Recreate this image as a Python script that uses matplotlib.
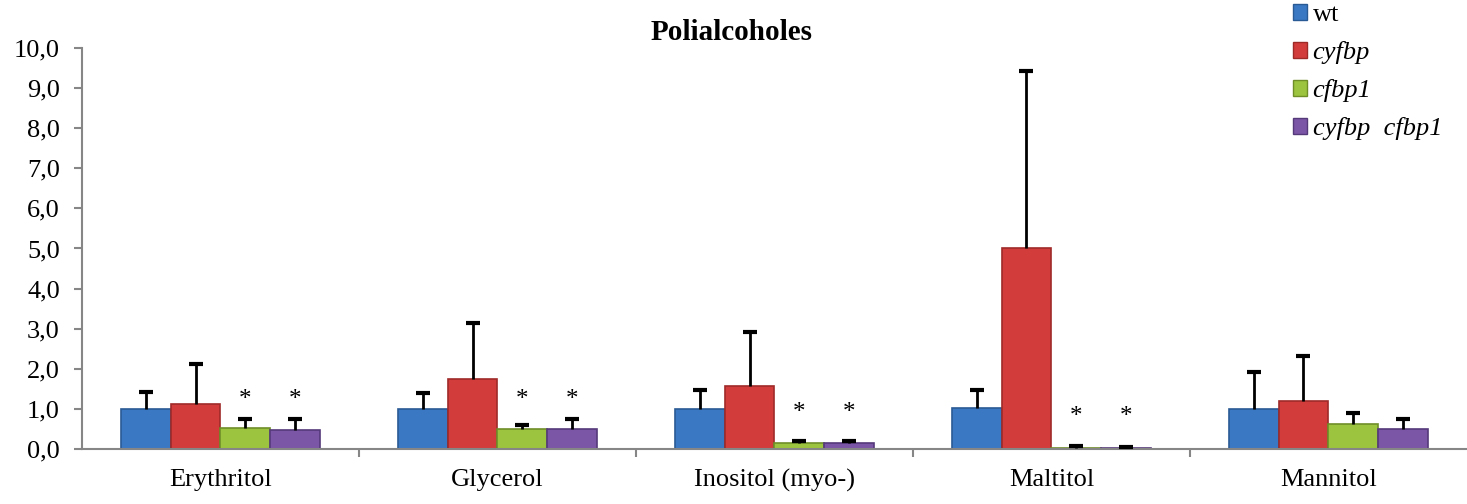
import matplotlib
matplotlib.use("Agg")
import matplotlib.pyplot as plt
import numpy as np
from matplotlib.patches import Patch

plt.rcParams['font.family'] = ['Liberation Serif', 'DejaVu Serif']

categories = ["Erythritol", "Glycerol", "Inositol (myo-)", "Maltitol", "Mannitol"]
series = ["wt", "cyfbp", "cfbp1", "cyfbp  cfbp1"]
wt = [1.0, 1.0, 1.0, 1.02, 1.0]
cyfbp = [1.13, 1.75, 1.58, 5.0, 1.2]
cfbp1 = [0.52, 0.5, 0.14, 0.03, 0.63]
double = [0.48, 0.5, 0.15, 0.02, 0.5]
wt_err = [0.42, 0.4, 0.47, 0.45, 0.93]
cyfbp_err = [1.0, 1.38, 1.34, 4.43, 1.12]
cfbp1_err = [0.24, 0.1, 0.05, 0.05, 0.28]
double_err = [0.26, 0.25, 0.05, 0.03, 0.26]
star_y = [[None, None, 1.22, 1.22], [None, None, 1.22, 1.22],
          [None, None, 0.9, 0.9], [None, None, 0.8, 0.8],
          [None, None, None, None]]
yticks = [0, 1, 2, 3, 4, 5, 6, 7, 8, 9, 10]
ytick_labels = ["0,0", "1,0", "2,0", "3,0", "4,0", "5,0", "6,0", "7,0", "8,0", "9,0", "10,0"]

colors = ["#3A78C3", "#D23C3A", "#9DC43E", "#7B55A6"]
edges = ["#2A5A94", "#9E2A28", "#6F8E28", "#553A7A"]

fig = plt.figure(figsize=(14.67, 5.04), dpi=100)
ax = fig.add_axes([0.0559, 0.109, 0.944, 0.796])

values = [wt, cyfbp, cfbp1, double]
errs = [wt_err, cyfbp_err, cfbp1_err, double_err]
x = np.arange(len(categories))
w = 0.18
for i, (v, e) in enumerate(zip(values, errs)):
    pos = x + (i - 1.5) * w
    v = np.array(v)
    e = np.array(e)
    ax.bar(pos, v, width=w, color=colors[i], edgecolor=edges[i], linewidth=1.2, zorder=2)
    ax.vlines(pos, v, v + e, colors='black', linewidth=2, zorder=3)
    ax.plot(pos, v + e, linestyle='none', marker='_', markersize=10,
            markeredgewidth=3, color='black', zorder=3)
    for j in range(len(categories)):
        sy = star_y[j][i]
        if sy is not None:
            ax.text(pos[j], sy, "*", ha='center', va='center', fontsize=18)

ax.set_xlim(-0.5, len(categories) - 0.5)
ax.set_ylim(0, 10)
ax.set_yticks(yticks)
ax.set_yticklabels(ytick_labels, fontsize=19)
ax.set_xticks(x)
ax.set_xticklabels(categories, fontsize=19)
ax.set_xticks(np.arange(0.5, len(categories) - 0.5, 1), minor=True)
ax.tick_params(axis='x', which='major', length=0, pad=14)
ax.tick_params(axis='x', which='minor', length=6, color='#868686', width=1.5)
ax.tick_params(axis='y', length=6, color='#868686', width=1.5, pad=10)
for s in ['top', 'right']:
    ax.spines[s].set_visible(False)
for s in ['left', 'bottom']:
    ax.spines[s].set_color('#868686')
    ax.spines[s].set_linewidth(1.5)

fig.text(0.499, 0.935, "Polialcoholes", ha='center', va='center', fontsize=21, fontweight='bold')

handles = [Patch(facecolor=colors[i], edgecolor=edges[i]) for i in range(4)]
leg = fig.legend(handles, series, loc='upper left', bbox_to_anchor=(0.874, 1.013),
                 frameon=False, fontsize=19, handlelength=0.55, handleheight=0.55,
                 handletextpad=0.2, labelspacing=0.57, borderaxespad=0)
for k, t in enumerate(leg.get_texts()):
    if k > 0:
        t.set_fontstyle('italic')

fig.savefig("out.png", dpi=100)
